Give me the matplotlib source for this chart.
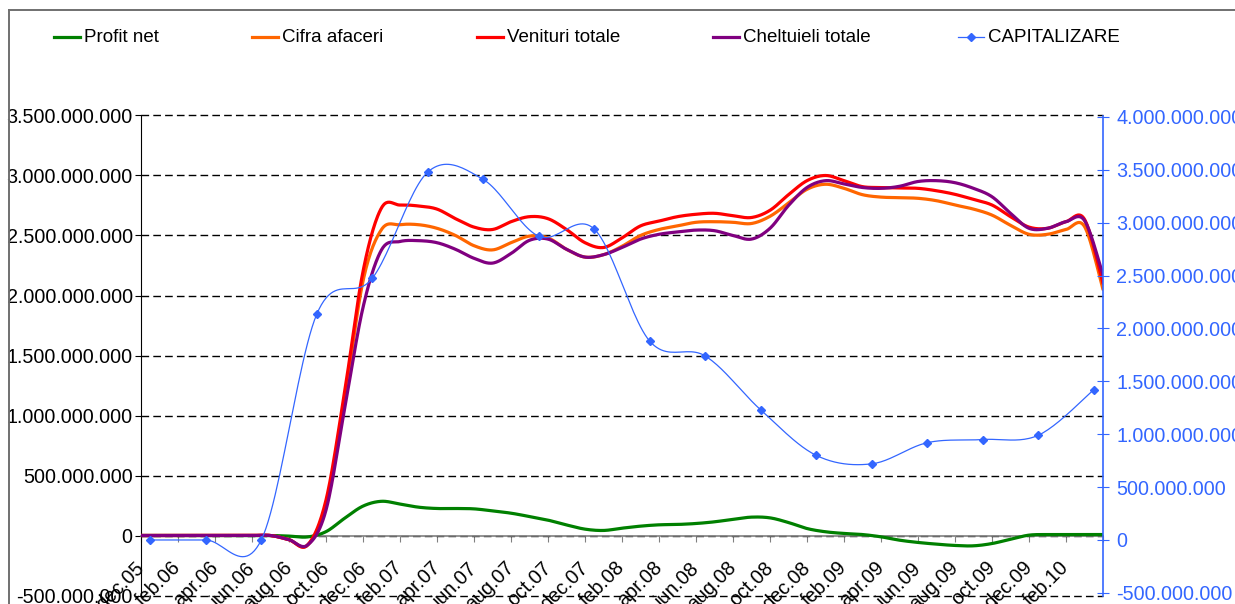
import numpy as np
import matplotlib
matplotlib.use("Agg")
import matplotlib.pyplot as plt
from matplotlib.lines import Line2D
from matplotlib.ticker import FuncFormatter, MultipleLocator

plt.rcParams['font.family'] = ['Liberation Sans', 'DejaVu Sans']
FS = 13.5      # legenda
FS_AX = 14.2   # etichete axe

# lunar, dec.05 .. apr.10 (valori in milioane lei)
profit_net = [0, 0, 0, 0, 0, 0, 0, 0, -5, -12, 32, 143, 245, 285, 262, 236, 225, 225,
              222, 205, 186, 158, 128, 88, 53, 42, 61, 78, 89, 92, 100, 114, 135, 153,
              147, 108, 58, 31, 17, 8, -11, -39, -58, -72, -83, -86, -67, -31, 3, 8, 8, 8, 8]
cifra_afaceri = [0, 0, 0, 0, 0, 0, 0, 0, -35, -80, 260, 1120, 2120, 2550, 2590, 2590,
                 2560, 2500, 2415, 2380, 2440, 2495, 2480, 2385, 2320, 2340, 2410, 2500,
                 2550, 2580, 2610, 2615, 2610, 2600, 2660, 2770, 2885, 2927, 2893, 2840,
                 2820, 2815, 2810, 2790, 2754, 2720, 2670, 2585, 2510, 2510, 2550, 2575, 2050]
venituri_totale = [0, 0, 0, 0, 0, 0, 0, 0, -35, -80, 296, 1190, 2200, 2730, 2754, 2746,
                   2720, 2640, 2570, 2550, 2615, 2657, 2640, 2550, 2440, 2400, 2480, 2580,
                   2620, 2657, 2677, 2685, 2665, 2650, 2710, 2840, 2957, 3000, 2957, 2907,
                   2900, 2896, 2893, 2873, 2843, 2800, 2754, 2657, 2570, 2560, 2615, 2635, 2100]
cheltuieli_totale = [0, 0, 0, 0, 0, 0, 0, 0, -35, -80, 212, 1050, 1900, 2380, 2450, 2457,
                     2440, 2385, 2310, 2270, 2350, 2460, 2470, 2385, 2320, 2340, 2400, 2470,
                     2510, 2530, 2545, 2540, 2500, 2470, 2560, 2750, 2900, 2957, 2930, 2900,
                     2893, 2910, 2950, 2957, 2940, 2893, 2823, 2685, 2560, 2560, 2615, 2625, 2170]

# trimestrial, dec.05 .. mar.10 (milioane lei)
capitalizare = [0, 0, 0, 2135, 2474, 3479, 3409, 2872, 2940, 1880, 1740, 1230,
                800, 720, 920, 950, 990, 1420]

etichete_x = ['dec.05', 'feb.06', 'apr.06', 'iun.06', 'aug.06', 'oct.06', 'dec.06',
              'feb.07', 'apr.07', 'iun.07', 'aug.07', 'oct.07', 'dec.07', 'feb.08',
              'apr.08', 'iun.08', 'aug.08', 'oct.08', 'dec.08', 'feb.09', 'apr.09',
              'iun.09', 'aug.09', 'oct.09', 'dec.09', 'feb.10']


def netezire(x, y, pasi=25):
    # curba neteda ca in Excel (Catmull-Rom -> Bezier)
    x = np.asarray(x, float)
    y = np.asarray(y, float)
    px = np.r_[x[0], x, x[-1]]
    py = np.r_[y[0], y, y[-1]]
    t = np.linspace(0, 1, pasi)
    xs, ys = [], []
    for i in range(len(x) - 1):
        x0, x1, x2, x3 = px[i:i + 4]
        y0, y1, y2, y3 = py[i:i + 4]
        cx1, cy1 = x1 + (x2 - x0) / 6, y1 + (y2 - y0) / 6
        cx2, cy2 = x2 - (x3 - x1) / 6, y2 - (y3 - y1) / 6
        a, b, c, d = (1 - t) ** 3, 3 * (1 - t) ** 2 * t, 3 * (1 - t) * t ** 2, t ** 3
        xs.append(a * x1 + b * cx1 + c * cx2 + d * x2)
        ys.append(a * y1 + b * cy1 + c * cy2 + d * y2)
    return np.concatenate(xs), np.concatenate(ys)


W, H = 1235, 604
fig = plt.figure(figsize=(W / 100, H / 100), dpi=100)
ax = fig.add_axes([141 / W, 8.5 / H, 962 / W, 480 / H])
ax2 = ax.twinx()

x_luni = np.arange(len(venituri_totale))
x_trim = 0.5 + 3 * np.arange(len(capitalizare))

serii = [
    (profit_net, '#008000', 'Profit net'),
    (cifra_afaceri, '#FF6600', 'Cifra afaceri'),
    (venituri_totale, '#FF0000', 'Venituri totale'),
    (cheltuieli_totale, '#800080', 'Cheltuieli totale'),
]
handles = []
for vals, col, lab in serii:
    sx, sy = netezire(x_luni, np.array(vals) * 1e6)
    h, = ax.plot(sx, sy, color=col, lw=2.3, zorder=3, label=lab,
                 solid_capstyle='round')
    handles.append(h)

blue = '#3366FF'
cx, cy = netezire(x_trim, np.array(capitalizare) * 1e6)
ax2.plot(cx, cy, color=blue, lw=0.9, zorder=3)
ax2.plot(x_trim, np.array(capitalizare) * 1e6, ls='none', marker='D', ms=4,
         color=blue, zorder=4)
handles.append(Line2D([], [], color=blue, lw=0.9, marker='D', ms=4,
                      label='CAPITALIZARE'))

fmt = FuncFormatter(lambda v, p: f"{int(round(v)):,}".replace(',', '.'))

# axa stanga
ax.set_xlim(0, len(venituri_totale) - 1)
ax.set_ylim(-5e8, 3.5e9)
ax.yaxis.set_major_locator(MultipleLocator(5e8))
ax.yaxis.set_major_formatter(fmt)
ax.grid(axis='y', color='black', lw=1.0, ls=(0, (5.5, 3)))
ax.grid(axis='x', visible=False)
for gl in ax.get_ygridlines():
    gl.set_clip_on(False)
ax.set_axisbelow(True)
ax.spines['top'].set_visible(False)
ax.spines['right'].set_visible(False)
ax.spines['left'].set_color('black')
ax.spines['bottom'].set_position(('data', 0))
ax.spines['bottom'].set_color('#808080')
ax.spines['bottom'].set_linewidth(1.2)
ax.tick_params(axis='y', labelsize=FS_AX, length=4, direction='out', pad=2,
               colors='black')
ax.set_xticks(np.arange(0, len(venituri_totale), 2))
ax.set_xticklabels(etichete_x + [''] * (len(ax.get_xticks()) - len(etichete_x)))
ax.tick_params(axis='x', labelsize=FS_AX, length=4, direction='out', color='#808080',
               pad=17)
for lbl in ax.get_xticklabels():
    lbl.set_rotation(45)
    lbl.set_rotation_mode('anchor')
    lbl.set_ha('right')
    lbl.set_va('center')

# axa dreapta
ax2.set_ylim(-525e6, 4014e6)
ax2.yaxis.set_major_locator(MultipleLocator(5e8))
ax2.yaxis.set_major_formatter(fmt)
for s in ['top', 'left', 'bottom']:
    ax2.spines[s].set_visible(False)
ax2.spines['right'].set_color(blue)
ax2.spines['right'].set_linewidth(1.2)
ax2.tick_params(axis='y', labelsize=FS_AX, colors=blue, direction='inout', length=9,
                pad=5)

# legenda, fiecare element pozitionat ca in original
leg_text_x = [84, 282, 507, 743, 988]
leg_y = 1 - 37 / H
for h, tx in zip(handles, leg_text_x):
    lx = [(tx - 30) / W, (tx - 4) / W]
    fig.add_artist(Line2D(lx, [leg_y, leg_y], transform=fig.transFigure,
                          color=h.get_color(), lw=h.get_linewidth()))
    if h.get_marker() not in (None, 'None', ''):
        fig.add_artist(Line2D([sum(lx) / 2], [leg_y], transform=fig.transFigure,
                              color=h.get_color(), marker=h.get_marker(), ms=4, ls='none'))
    fig.text(tx / W, leg_y, h.get_label(), fontsize=FS, va='center', ha='left')

# chenarul graficului
fig.add_artist(Line2D([9 / W, 1], [1 - 10 / H, 1 - 10 / H], transform=fig.transFigure,
                      color='#707070', lw=1.4))
fig.add_artist(Line2D([9 / W, 9 / W], [0, 1 - 10 / H], transform=fig.transFigure,
                      color='#707070', lw=1.4))

fig.savefig('out.png', dpi=100)
